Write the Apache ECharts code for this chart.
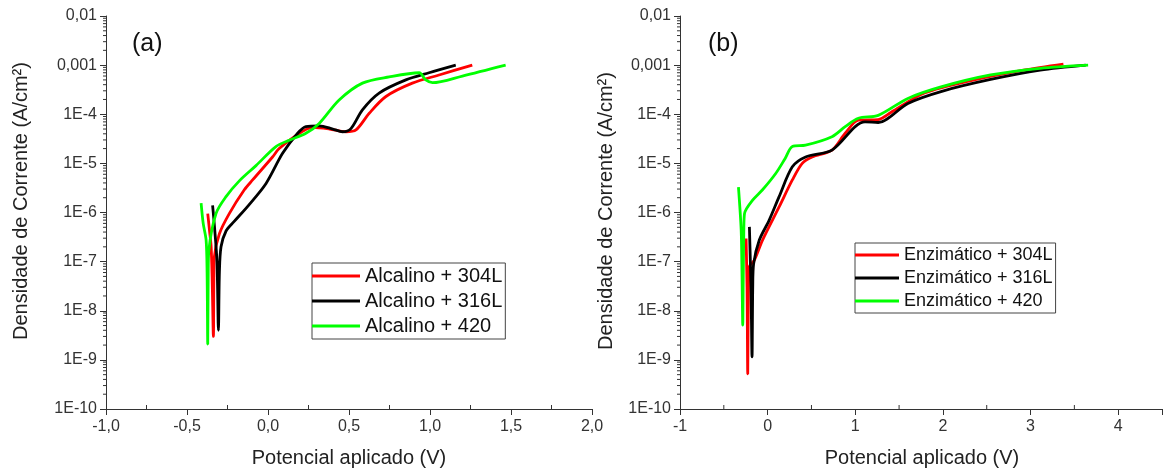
<!DOCTYPE html>
<html>
<head>
<meta charset="utf-8">
<script src="https://cdn.jsdelivr.net/npm/echarts@6/dist/echarts.min.js"></script>
<style>
html,body{margin:0;padding:0;background:#fff;}
#c{width:1165px;height:470px;}
</style>
</head>
<body>
<div id="c"></div>
<script>
// ---------- DATA ----------
const panelLabels = ['(a)', '(b)'];
const yTitle = 'Densidade de Corrente (A/cm\u00B2)';
const xTitle = 'Potencial aplicado (V)';
const legendA = ['Alcalino + 304L', 'Alcalino + 316L', 'Alcalino + 420'];
const legendB = ['Enzim\u00E1tico + 304L', 'Enzim\u00E1tico + 316L', 'Enzim\u00E1tico + 420'];
const seriesColors = ['#ff0000', '#000000', '#00ff00'];

// panel (a): [potential V, current density A/cm2]
const alcalino304L = [
  [-0.372, 9.5e-7], [-0.36, 4e-7], [-0.351, 2e-7], [-0.345, 5e-8], [-0.337, 3e-9],
  [-0.334, 5e-8], [-0.331, 1.26e-7], [-0.30, 3.7e-7], [-0.239, 9.5e-7], [-0.146, 2.9e-6],
  [-0.095, 4.6e-6], [0.028, 1.35e-5], [0.069, 2.0e-5], [0.17, 3.6e-5], [0.275, 5.4e-5],
  [0.38, 5.0e-5], [0.48, 4.4e-5], [0.543, 4.8e-5], [0.625, 1.05e-4], [0.728, 2.3e-4],
  [0.891, 4.3e-4], [1.056, 6.3e-4], [1.261, 1.0e-3]
];
const alcalino316L = [
  [-0.342, 1.4e-6], [-0.33, 5e-7], [-0.315, 1e-7], [-0.306, 4e-9], [-0.30, 6e-8],
  [-0.29, 2e-7], [-0.259, 4.2e-7], [-0.21, 6.5e-7], [-0.12, 1.4e-6], [-0.012, 3.9e-6],
  [0.09, 1.6e-5], [0.183, 4.1e-5], [0.234, 5.6e-5], [0.316, 5.8e-5], [0.40, 5.0e-5],
  [0.46, 4.4e-5], [0.512, 5.1e-5], [0.583, 1.23e-4], [0.686, 2.7e-4], [0.851, 5.0e-4],
  [0.994, 7.0e-4], [1.159, 1.0e-3]
];
const alcalino420 = [
  [-0.413, 1.55e-6], [-0.40, 6e-7], [-0.382, 2.75e-7], [-0.376, 6e-8], [-0.372, 2.1e-9],
  [-0.369, 6e-8], [-0.365, 1.7e-7], [-0.321, 9.5e-7], [-0.259, 2.1e-6], [-0.177, 4.4e-6],
  [-0.074, 9.0e-6], [0.049, 2.2e-5], [0.131, 2.95e-5], [0.234, 4.1e-5], [0.316, 6.5e-5],
  [0.439, 1.95e-4], [0.583, 4.3e-4], [0.748, 5.75e-4], [0.933, 7.0e-4], [0.974, 5.0e-4],
  [1.015, 4.4e-4], [1.2, 6.0e-4], [1.467, 1.0e-3]
];

// panel (b)
const enzimatico304L = [
  [-0.246, 2.95e-7], [-0.235, 3e-8], [-0.227, 5.2e-10], [-0.22, 2e-8], [-0.208, 7.9e-8],
  [-0.152, 1.07e-7], [-0.058, 2.75e-7], [0.131, 1.3e-6], [0.282, 4.6e-6], [0.395, 1.0e-5],
  [0.508, 1.35e-5], [0.734, 1.86e-5], [0.885, 4.1e-5], [1.036, 7.6e-5], [1.262, 7.8e-5],
  [1.41, 1.1e-4], [1.79, 2.7e-4], [2.357, 5.0e-4], [2.922, 7.9e-4], [3.375, 1.05e-3]
];
const enzimatico316L = [
  [-0.208, 5.1e-7], [-0.19, 3e-8], [-0.178, 1.15e-9], [-0.17, 3e-8], [-0.16, 9e-8],
  [-0.095, 2.75e-7], [0.018, 7e-7], [0.131, 2.1e-6], [0.282, 8.5e-6], [0.433, 1.35e-5],
  [0.734, 1.86e-5], [0.999, 5.6e-5], [1.111, 7.0e-5], [1.262, 6.8e-5], [1.6, 1.66e-4],
  [1.978, 2.9e-4], [2.544, 5.1e-4], [3.11, 7.9e-4], [3.63, 1.0e-3]
];
const enzimatico420 = [
  [-0.333, 3.3e-6], [-0.302, 4.4e-7], [-0.292, 5e-8], [-0.284, 5.1e-9], [-0.278, 5e-8],
  [-0.272, 4e-7], [-0.264, 9.5e-7], [-0.171, 1.78e-6], [-0.058, 2.9e-6], [0.094, 6.3e-6],
  [0.2, 1.26e-5], [0.282, 2.2e-5], [0.433, 2.35e-5], [0.734, 3.5e-5], [0.885, 5.6e-5],
  [1.036, 8.3e-5], [1.262, 9.5e-5], [1.6, 2.1e-4], [1.978, 3.6e-4], [2.544, 6.3e-4],
  [3.11, 8.6e-4], [3.657, 1.0e-3]
];

// axis settings
const yMin = 1e-10, yMax = 0.01;
const xRangeA = [-1, 2], xRangeB = [-1, 4.5];
const xMinorA = [-0.75, -0.25, 0.25, 0.75, 1.25, 1.75];
const xMinorB = [-0.5, 0.5, 1.5, 2.5, 3.5];

// ---------- BUILD ----------
const FONT = '"Liberation Sans", Arial, sans-serif';
const yMinorVals = [];
for (let e = -10; e < -2; e++) {
  for (let m = 2; m <= 9; m++) yMinorVals.push(m * Math.pow(10, e));
}

function yLabel(v) {
  const e = Math.round(Math.log10(v));
  if (e === -2) return '0,01';
  if (e === -3) return '0,001';
  return '1E' + e;
}

function minorTickSeries(gi, xr, xMinor) {
  const data = [];
  yMinorVals.forEach(v => data.push([xr[0], v, 0]));
  xMinor.forEach(v => data.push([v, yMin, 1]));
  return {
    type: 'custom', xAxisIndex: gi, yAxisIndex: gi, silent: true, clip: false,
    data: data, z: 5,
    renderItem: function (params, api) {
      const p = api.coord([api.value(0), api.value(1)]);
      const kind = api.value(2);
      const shape = kind === 0
        ? { x1: p[0] - 3, y1: p[1], x2: p[0], y2: p[1] }
        : { x1: p[0], y1: p[1], x2: p[0], y2: p[1] - 4 };
      return { type: 'line', shape: shape, style: { stroke: '#333', lineWidth: 1 } };
    }
  };
}

function xAxisCfg(gi, xr, interval, fmt) {
  return {
    gridIndex: gi, type: 'value', min: xr[0], max: xr[1], interval: interval,
    axisLine: { show: true, onZero: false, lineStyle: { color: '#333', width: 1 } },
    axisTick: { show: true, inside: false, length: 6, lineStyle: { color: '#333' } },
    axisLabel: { fontFamily: FONT, fontSize: 16, color: '#333', margin: 10, formatter: fmt, showMaxLabel: true },
    splitLine: { show: false }
  };
}
function yAxisCfg(gi) {
  return {
    gridIndex: gi, type: 'log', logBase: 10, min: yMin, max: yMax, splitNumber: 8,
    axisLine: { show: true, onZero: false, lineStyle: { color: '#333', width: 1 } },
    axisTick: { show: true, inside: false, length: 6, lineStyle: { color: '#333' } },
    axisLabel: { fontFamily: FONT, fontSize: 16, color: '#333', margin: 9, formatter: yLabel },
    splitLine: { show: false }, minorTick: { show: false }
  };
}

function lineSeries(name, data, color, gi) {
  return {
    name: name, type: 'line', xAxisIndex: gi, yAxisIndex: gi, data: data,
    showSymbol: false, symbol: 'none', smooth: 0.3, clip: true,
    lineStyle: { color: color, width: 2.8 }, itemStyle: { color: color }, z: 3
  };
}

const panelA = [alcalino304L, alcalino316L, alcalino420];
const panelB = [enzimatico304L, enzimatico316L, enzimatico420];
const series = [];
panelA.forEach((d, i) => series.push(lineSeries(legendA[i], d, seriesColors[i], 0)));
panelB.forEach((d, i) => series.push(lineSeries(legendB[i], d, seriesColors[i], 1)));
series.push(minorTickSeries(0, xRangeA, xMinorA));
series.push(minorTickSeries(1, xRangeB, xMinorB));

function legendCfg(names, left, top, fs, iw) {
  return {
    data: names, orient: 'vertical', left: left, top: top, icon: 'rect',
    itemWidth: iw, itemHeight: 3, itemGap: 5, padding: [3, 3, 3, 0],
    borderColor: '#444', borderWidth: 1, backgroundColor: '#fff',
    textStyle: { fontFamily: FONT, fontSize: fs, color: '#111', padding: [0, 0, 0, 0] },
    selectedMode: false
  };
}

const titleStyle = { fontFamily: FONT, fontSize: 20, fill: '#222' };

const option = {
  animation: false,
  backgroundColor: '#fff',
  grid: [
    { left: 106, top: 16, width: 486, height: 393 },
    { left: 680, top: 16, width: 486, height: 393 }
  ],
  xAxis: [
    xAxisCfg(0, xRangeA, 0.5, v => v.toFixed(1).replace('.', ',')),
    xAxisCfg(1, xRangeB, 1, v => Number.isInteger(v) ? String(v) : '')
  ],
  yAxis: [yAxisCfg(0), yAxisCfg(1)],
  legend: [
    legendCfg(legendA, 312, 263, 20, 48),
    legendCfg(legendB, 855, 243, 18, 44)
  ],
  graphic: [
    { type: 'text', left: 132, top: 32, style: { text: panelLabels[0], fontFamily: FONT, fontSize: 25, fill: '#111' } },
    { type: 'text', left: 708, top: 32, style: { text: panelLabels[1], fontFamily: FONT, fontSize: 25, fill: '#111' } },
    { type: 'text', x: 21, y: 201, rotation: Math.PI / 2, style: Object.assign({ text: yTitle, align: 'center', verticalAlign: 'middle' }, titleStyle) },
    { type: 'text', x: 606, y: 211, rotation: Math.PI / 2, style: Object.assign({ text: yTitle, align: 'center', verticalAlign: 'middle' }, titleStyle) },
    { type: 'text', x: 349, y: 458, style: Object.assign({ text: xTitle, align: 'center', verticalAlign: 'middle' }, titleStyle) },
    { type: 'text', x: 922, y: 458, style: Object.assign({ text: xTitle, align: 'center', verticalAlign: 'middle' }, titleStyle) }
  ],
  series: series
};

const chart = echarts.init(document.getElementById('c'), null, { renderer: 'canvas' });
chart.setOption(option);
</script>
</body>
</html>
